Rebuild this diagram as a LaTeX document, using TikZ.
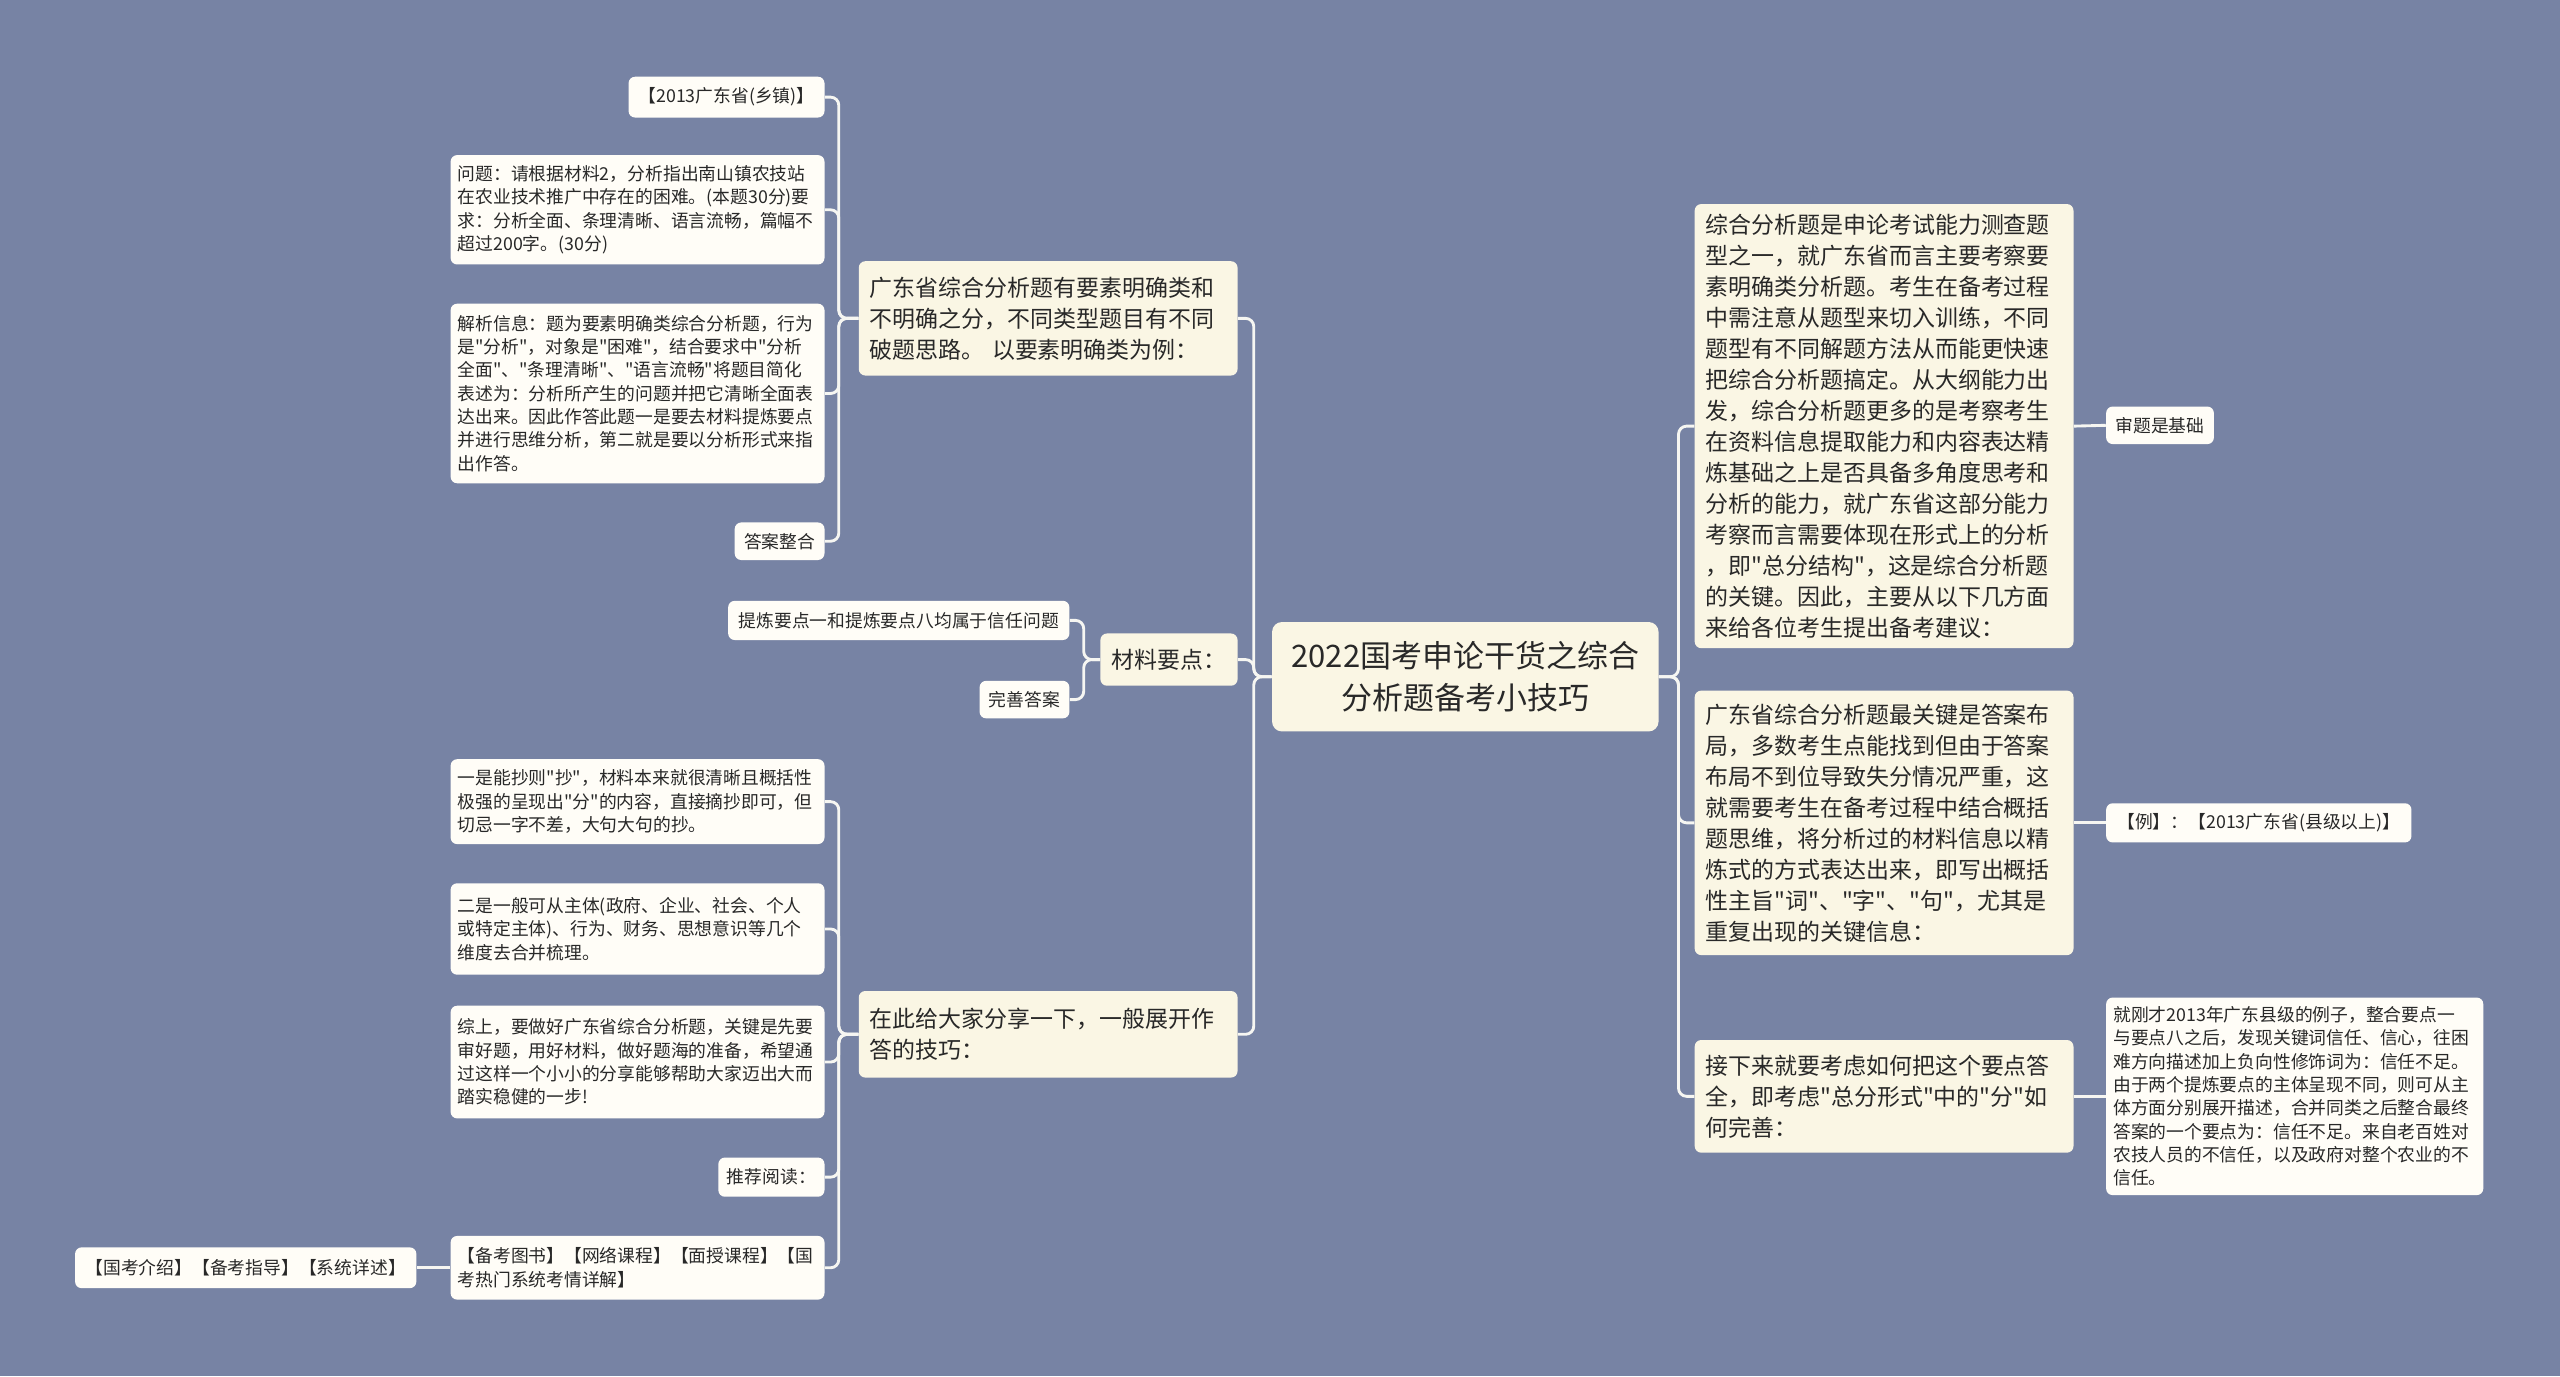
\documentclass[tikz,border=0pt]{standalone}
\usepackage{fontspec}
\usepackage{tikz}
\newfontfamily\cjk{Noto Sans CJK SC}
\definecolor{bgblue}{RGB}{119,131,164}
\definecolor{cream}{RGB}{250,246,228}
\definecolor{paper}{RGB}{255,253,247}
\definecolor{ink}{RGB}{40,40,40}
\definecolor{wire}{RGB}{246,246,242}

\begin{document}
\begin{tikzpicture}[x=0.03cm, y=-0.03cm,
    topic/.style={fill=cream, rounded corners=0.12cm, text=ink, align=left,
      inner xsep=0.2cm, inner ysep=0pt, text width=6.56cm,
      font=\cjk\fontsize{12}{16.2}\selectfont},
    leaf/.style={fill=paper, rounded corners=0.12cm, text=ink, align=left,
      inner xsep=0.13cm, inner ysep=0pt,
      font=\cjk\fontsize{9.3}{12.2}\selectfont},
    wide/.style={text width=6.61cm},
    link/.style={draw=wire, line width=1.5pt, rounded corners=0.15cm}]
    \useasboundingbox (0,0) rectangle (1568,843);
    \fill[bgblue] (0,0) rectangle (1568,843);

    % ---------- centre ----------
    \node[topic, align=center, text width=6.7cm, minimum height=2.01cm,
      rounded corners=0.18cm, font=\cjk\fontsize{16.2}{22}\selectfont]
      (root) at (897.5,414.5) {2022国考申论干货之综合\\分析题备考小技巧};

    % ---------- left: element types ----------
    \node[topic, minimum height=2.1cm] (fenlei) at (642,195) {广东省综合分析题有要素明确类和\\不明确之分，不同类型题目有不同\\破题思路。\ 以要素明确类为例：};

    \node[leaf, minimum width=3.6cm, minimum height=0.75cm] (xiangzhen) at (445,59.5) {【2013广东省(乡镇)】};
    \node[leaf, wide, minimum height=2.01cm] (wenti) at (390.5,128.5) {问题：请根据材料2，分析指出南山镇农技站\\在农业技术推广中存在的困难。(本题30分)要\\求：分析全面、条理清晰、语言流畅，篇幅不\\超过200字。(30分)};
    \node[leaf, wide, minimum height=3.3cm] (jiexi) at (390.5,241) {解析信息：题为要素明确类综合分析题，行为\\是"分析"，对象是"困难"，结合要求中"分析\\全面"、"条理清晰"、"语言流畅"将题目简化\\表述为：分析所产生的问题并把它清晰全面表\\达出来。因此作答此题一是要去材料提炼要点\\并进行思维分析，第二就是要以分析形式来指\\出作答。};
    \node[leaf, minimum width=1.65cm, minimum height=0.69cm] (zhenghe) at (477.5,331.5) {答案整合};

    % ---------- left: material points ----------
    \node[topic, text width=, minimum width=2.52cm, minimum height=0.96cm] (cailiao) at (716,404) {材料要点：};
    \node[leaf, minimum width=6.27cm, minimum height=0.72cm] (tilian) at (550.5,380) {提炼要点一和提炼要点八均属于信任问题};
    \node[leaf, minimum width=1.65cm, minimum height=0.69cm] (wanshan) at (627.5,428.5) {完善答案};

    % ---------- left: answering tips ----------
    \node[topic, minimum height=1.59cm] (jiqiao) at (642,633.5) {在此给大家分享一下，一般展开作\\答的技巧：};

    \node[leaf, wide, minimum height=1.56cm] (yishi) at (390.5,491) {一是能抄则"抄"，材料本来就很清晰且概括性\\极强的呈现出"分"的内容，直接摘抄即可，但\\切忌一字不差，大句大句的抄。};
    \node[leaf, wide, minimum height=1.68cm] (ershi) at (390.5,569) {二是一般可从主体(政府、企业、社会、个人\\或特定主体)、行为、财务、思想意识等几个\\维度去合并梳理。};
    \node[leaf, wide, minimum height=2.07cm] (zongshang) at (390.5,650.5) {综上，要做好广东省综合分析题，关键是先要\\审好题，用好材料，做好题海的准备，希望通\\过这样一个小小的分享能够帮助大家迈出大而\\踏实稳健的一步!};
    \node[leaf, minimum width=1.95cm, minimum height=0.72cm] (tuijian) at (472.5,721) {推荐阅读：};
    \node[leaf, wide, minimum height=1.17cm] (beikao) at (390.5,776.5) {【备考图书】【网络课程】【面授课程】【国\\考热门系统考情详解】};
    \node[leaf, minimum width=6.27cm, minimum height=0.75cm] (guokao) at (150.5,776.5) {【国考介绍】【备考指导】【系统详述】};

    % ---------- right ----------
    \node[topic, minimum height=8.16cm] (jichu) at (1154,261) {综合分析题是申论考试能力测查题\\型之一，就广东省而言主要考察要\\素明确类分析题。考生在备考过程\\中需注意从题型来切入训练，不同\\题型有不同解题方法从而能更快速\\把综合分析题搞定。从大纲能力出\\发，综合分析题更多的是考察考生\\在资料信息提取能力和内容表达精\\炼基础之上是否具备多角度思考和\\分析的能力，就广东省这部分能力\\考察而言需要体现在形式上的分析\\，即"总分结构"，这是综合分析题\\的关键。因此，主要从以下几方面\\来给各位考生提出备考建议：};
    \node[leaf, minimum width=1.98cm, minimum height=0.69cm] (shenti) at (1323,260.5) {审题是基础};

    \node[topic, minimum height=4.86cm] (buju) at (1154,504) {广东省综合分析题最关键是答案布\\局，多数考生点能找到但由于答案\\布局不到位导致失分情况严重，这\\就需要考生在备考过程中结合概括\\题思维，将分析过的材料信息以精\\炼式的方式表达出来，即写出概括\\性主旨"词"、"字"、"句"，尤其是\\重复出现的关键信息：};
    \node[leaf, minimum width=5.61cm, minimum height=0.72cm] (li) at (1383.5,504) {【例】：【2013广东省(县级以上)】};

    \node[topic, minimum height=2.07cm] (dawan) at (1154,671.5) {接下来就要考虑如何把这个要点答\\全，即考虑"总分形式"中的"分"如\\何完善：};
    \node[leaf, text width=6.67cm, minimum height=3.63cm] (gangcai) at (1405.5,671.5) {就刚才2013年广东县级的例子，整合要点一\\与要点八之后，发现关键词信任、信心，往困\\难方向描述加上负向性修饰词为：信任不足。\\由于两个提炼要点的主体呈现不同，则可从主\\体方面分别展开描述，合并同类之后整合最终\\答案的一个要点为：信任不足。来自老百姓对\\农技人员的不信任，以及政府对整个农业的不\\信任。};

    % ---------- connectors ----------
    \foreach \t in {fenlei, cailiao, jiqiao}
      \draw[link] (root.west) -- ++(-11,0) |- (\t.east);
    \foreach \t in {jichu, buju, dawan}
      \draw[link] (root.east) -- ++(12,0) |- (\t.west);
    \foreach \t in {xiangzhen, wenti, jiexi, zhenghe}
      \draw[link] (fenlei.west) -- ++(-12,0) |- (\t.east);
    \foreach \t in {tilian, wanshan}
      \draw[link] (cailiao.west) -- ++(-10,0) |- (\t.east);
    \foreach \t in {yishi, ershi, zongshang, tuijian, beikao}
      \draw[link] (jiqiao.west) -- ++(-12,0) |- (\t.east);
    \draw[link] (beikao.west) -- (guokao.east);
    \draw[link] (jichu.east) -- (shenti.west);
    \draw[link] (buju.east) -- (li.west);
    \draw[link] (dawan.east) -- (gangcai.west);
  \end{tikzpicture}
\end{document}
